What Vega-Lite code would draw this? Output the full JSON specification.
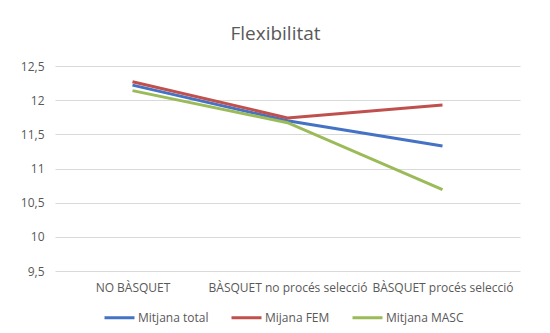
{
  "$schema": "https://vega.github.io/schema/vega-lite/v6.json",
  "autosize": {"type": "none"},
  "padding": {"left": 55, "top": 66, "right": 30, "bottom": 62},
  "width": 465,
  "height": 205,
  "background": "white",
  "title": {"text": "Flexibilitat", "fontSize": 19, "font": "Open Sans", "fontWeight": "normal", "color": "#595959", "anchor": "middle", "offset": 16, "dx": -12},
  "data": {"values": [
    {"cat": "NO BÀSQUET", "serie": "Mitjana total", "v": 12.22},
    {"cat": "BÀSQUET no procés selecció", "serie": "Mitjana total", "v": 11.7},
    {"cat": "BÀSQUET procés selecció", "serie": "Mitjana total", "v": 11.33},
    {"cat": "NO BÀSQUET", "serie": "Mijana FEM", "v": 12.27},
    {"cat": "BÀSQUET no procés selecció", "serie": "Mijana FEM", "v": 11.74},
    {"cat": "BÀSQUET procés selecció", "serie": "Mijana FEM", "v": 11.93},
    {"cat": "NO BÀSQUET", "serie": "Mitjana MASC", "v": 12.14},
    {"cat": "BÀSQUET no procés selecció", "serie": "Mitjana MASC", "v": 11.67},
    {"cat": "BÀSQUET procés selecció", "serie": "Mitjana MASC", "v": 10.69}
  ]},
  "mark": {"type": "line", "strokeWidth": 3},
  "encoding": {
    "x": {"field": "cat", "type": "nominal", "sort": ["NO BÀSQUET", "BÀSQUET no procés selecció", "BÀSQUET procés selecció"],
      "scale": {"paddingInner": 0, "paddingOuter": 0.5},
      "axis": {"title": null, "labelAngle": 0, "ticks": false, "domain": false, "labelFontSize": 12, "labelFont": "Open Sans", "labelColor": "#595959", "labelPadding": 11, "grid": false}},
    "y": {"field": "v", "type": "quantitative", "scale": {"domain": [9.5, 12.5], "nice": false, "zero": false},
      "axis": {"title": null, "values": [9.5, 10, 10.5, 11, 11.5, 12, 12.5], "labelExpr": "replace(toString(datum.value), '.', ',')", "ticks": false, "domain": false, "gridColor": "#d9d9d9", "labelFontSize": 12, "labelFont": "Open Sans", "labelColor": "#595959", "labelPadding": 11}},
    "color": {"field": "serie", "type": "nominal", "sort": ["Mitjana total", "Mijana FEM", "Mitjana MASC"],
      "scale": {"domain": ["Mitjana total", "Mijana FEM", "Mitjana MASC"], "range": ["#4472C4", "#C0504D", "#9BBB59"]},
      "legend": {"title": null, "orient": "none", "direction": "horizontal", "legendX": 48, "legendY": 235, "symbolType": "stroke", "symbolSize": 900, "symbolStrokeWidth": 3, "labelFontSize": 12, "labelFont": "Open Sans", "labelColor": "#595959", "labelOffset": 2, "columnPadding": 16, "labelBaseline": "middle"}}
  },
  "config": {"view": {"stroke": null}}
}
